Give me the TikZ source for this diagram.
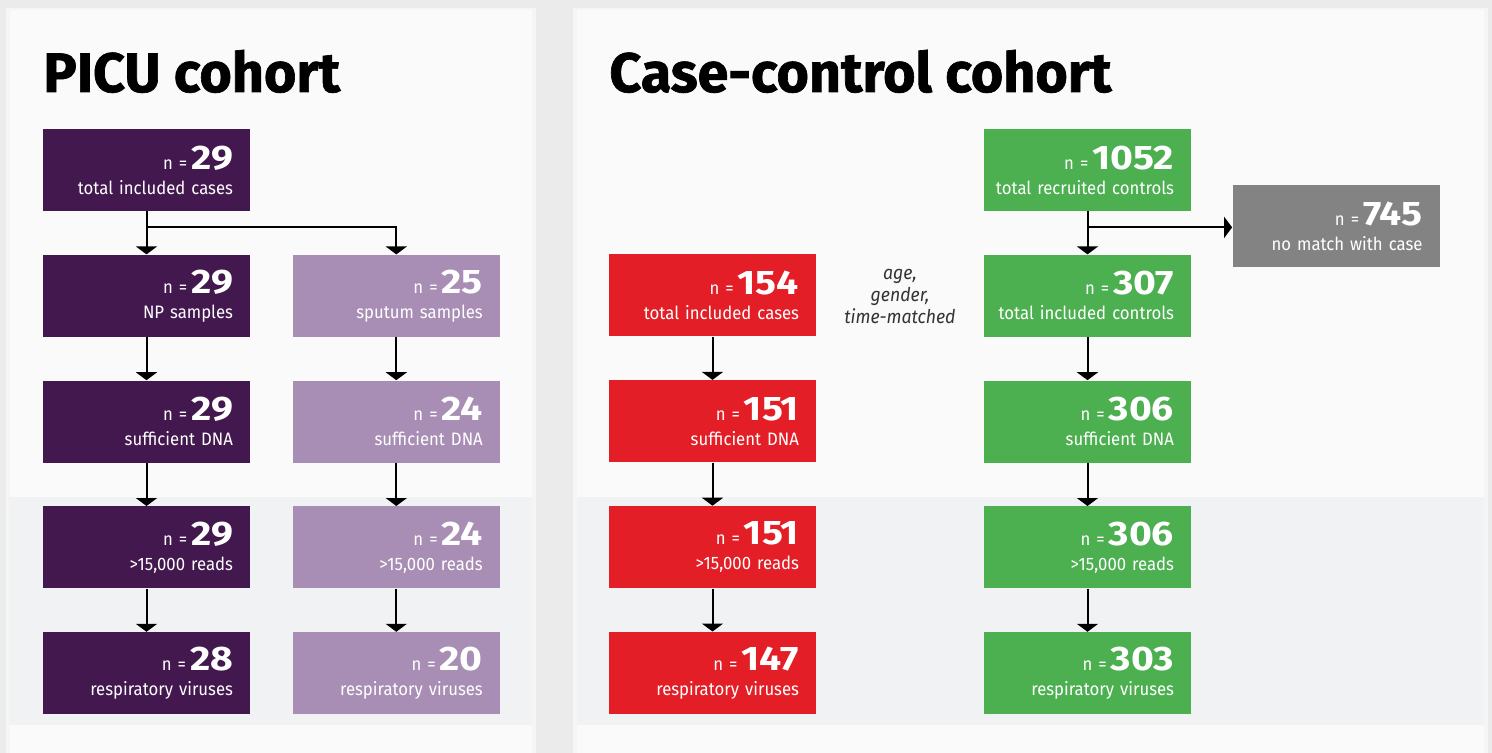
\documentclass[tikz,border=0pt]{standalone}
\usepackage{fontspec}
\setmainfont{Fira Sans}
\newfontfamily\subfont[FakeStretch=0.93]{Fira Sans}
\newfontfamily\digitfont[FakeStretch=1.15]{Fira Sans}
\newfontfamily\titlefont[BoldFeatures={FakeBold=1.2}]{Fira Sans}
\usetikzlibrary{arrows.meta,positioning,calc,backgrounds}
\usepackage{xcolor}

\definecolor{pagebg}{HTML}{EBEBEB}
\definecolor{panelbg}{HTML}{FAFAFA}
\definecolor{bandbg}{HTML}{F1F2F4}
\definecolor{picudark}{HTML}{42184F}
\definecolor{piculight}{HTML}{A88EB4}
\definecolor{casered}{HTML}{E31E26}
\definecolor{ctrlgreen}{HTML}{4CAF50}
\definecolor{nomatch}{HTML}{838383}

\newcommand{\nfont}{\fontsize{9}{12}\selectfont}
\newcommand{\numfont}{\digitfont\fontsize{17}{12}\selectfont\bfseries}
\newcommand{\cnt}[2]{{\nfont n =\kern2pt}{\numfont #1}\\[0.5pt]\makebox[86.5pt][r]{#2}}

\tikzset{
  cbox/.style={minimum width=103.5pt, minimum height=41pt, inner xsep=8.5pt,
    inner ysep=0pt, text width=86.5pt, align=right, text=white,
    font=\subfont\fontsize{9}{12}\selectfont},
  picu/.style={cbox, fill=picudark},
  sputum/.style={cbox, fill=piculight},
  cases/.style={cbox, fill=casered},
  ctrls/.style={cbox, fill=ctrlgreen},
  dropped/.style={cbox, fill=nomatch},
  flow/.style={-{Triangle[width=10.5pt,length=4pt]}, line width=1pt},
  title/.style={anchor=base west, inner sep=0pt, font=\titlefont\fontsize{27.8}{30}\selectfont\bfseries},
  node distance=21.5pt and 21pt
}

\begin{document}
\begin{tikzpicture}[x=0.5pt,y=-0.5pt]
    \useasboundingbox (0,0) rectangle (1492,753);
    % panels
    \fill[pagebg] (0,0) rectangle (1492,753);
    \fill[black!4] (6,8) rectangle (536,753);
    \fill[black!4] (573,8) rectangle (1488,753);
    \fill[panelbg] (10,10) rectangle (532,753);
    \fill[panelbg] (577,10) rectangle (1484,753);
    \fill[bandbg] (9,497) rectangle (532,725);
    \fill[bandbg] (577,497) rectangle (1484,725);

    \node[title] (picutitle) at (43,92) {PICU cohort};
    \node[title] (cctitle) at (609,92) {Case-control cohort};

    % PICU cohort
    \node[picu] (a1) at (146.5,170) {\cnt{29}{total included cases}};
    \node[picu, below=of a1] (a2) {\cnt{29}{NP samples}};
    \node[picu, below=of a2] (a3) {\cnt{29}{sufficient DNA}};
    \node[picu, below=of a3] (a4) {\cnt{29}{>15,000 reads}};
    \node[picu, below=of a4] (a5) {\cnt{28}{respiratory viruses}};
    \node[sputum, right=of a2] (b2) {\cnt{25}{sputum samples}};
    \node[sputum, below=of b2] (b3) {\cnt{24}{sufficient DNA}};
    \node[sputum, below=of b3] (b4) {\cnt{24}{>15,000 reads}};
    \node[sputum, below=of b4] (b5) {\cnt{20}{respiratory viruses}};

    % case-control cohort
    \node[ctrls] (d1) at (1087.5,170) {\cnt{1052}{total recruited controls}};
    \node[ctrls, below=of d1] (d2) {\cnt{307}{total included controls}};
    \node[ctrls, below=of d2] (d3) {\cnt{306}{sufficient DNA}};
    \node[ctrls, below=of d3] (d4) {\cnt{306}{>15,000 reads}};
    \node[ctrls, below=of d4] (d5) {\cnt{303}{respiratory viruses}};
    \node[cases] (c2) at (712.5,295.5) {\cnt{154}{total included cases}};
    \node[cases, below=of c2] (c3) {\cnt{151}{sufficient DNA}};
    \node[cases, below=of c3] (c4) {\cnt{151}{>15,000 reads}};
    \node[cases, below=of c4] (c5) {\cnt{147}{respiratory viruses}};
    \node[dropped] (g1) at (1336,226.5) {\cnt{745}{no match with case}};

    \node[align=center, text=black!80, font=\subfont\itshape\fontsize{9.5}{11}\selectfont]
      (matching) at (900,296) {age,\\gender,\\time-matched};

    % connectors
    \foreach \col/\from/\to in {a/1/2,a/2/3,a/3/4,a/4/5,b/2/3,b/3/4,b/4/5,
                                c/2/3,c/3/4,c/4/5,d/1/2,d/2/3,d/3/4,d/4/5}{
      \draw[flow] (\col\from) -- (\col\to);
    }
    \coordinate[below=8pt of a1] (splitA);
    \draw[flow] (splitA) -| (b2);
    \coordinate[below=8pt of d1] (splitD);
    \draw[flow] (splitD) -- (splitD -| g1.west);
  \end{tikzpicture}
\end{document}
